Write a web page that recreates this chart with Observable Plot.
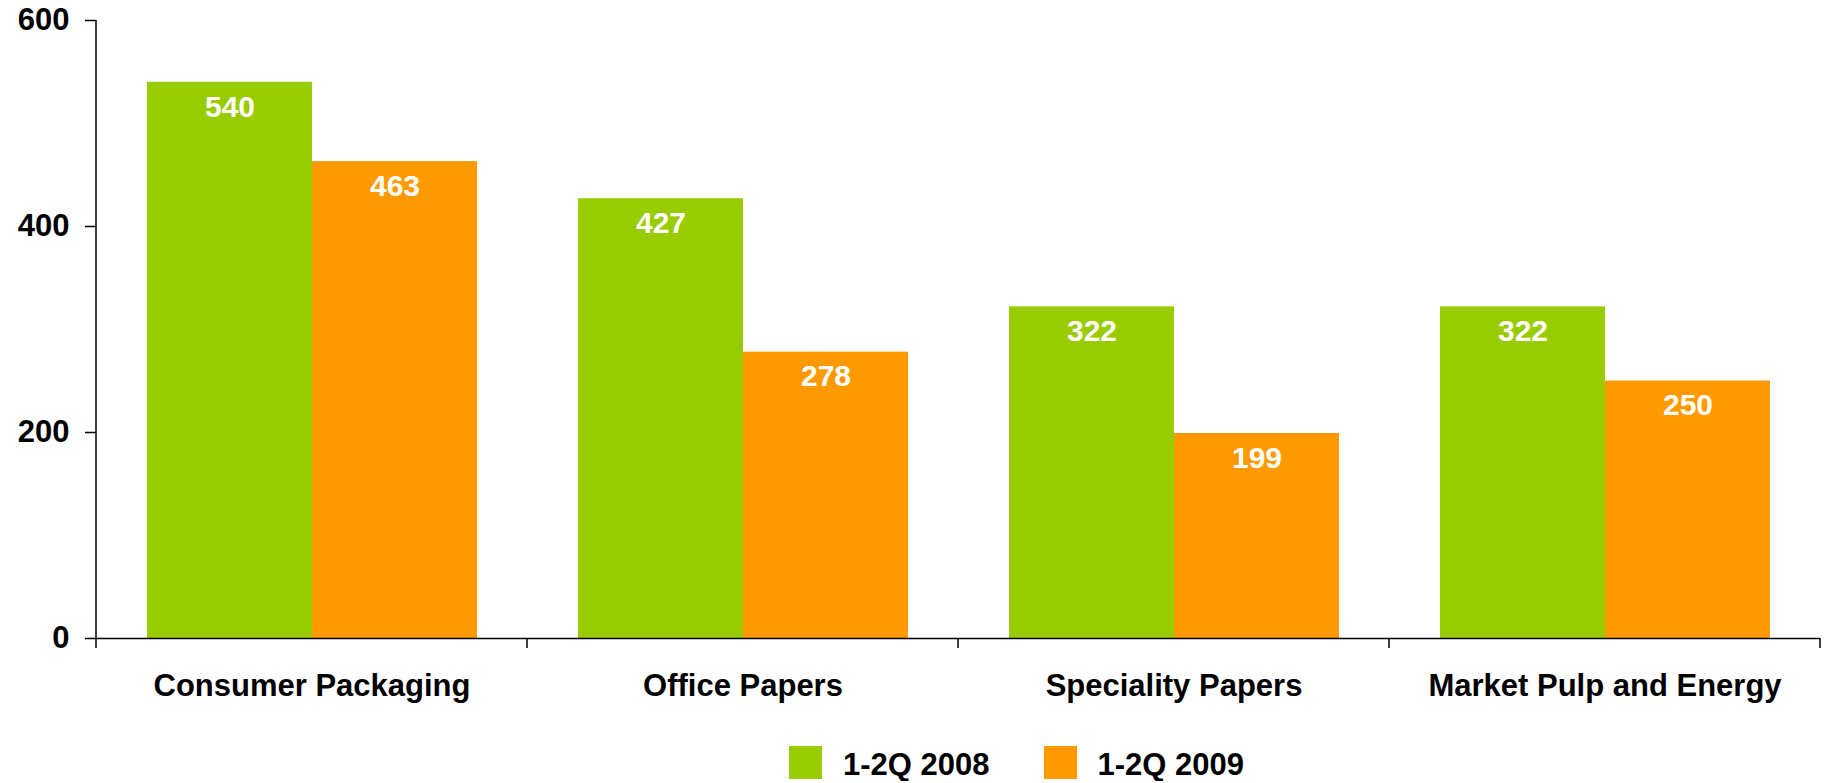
<!DOCTYPE html>
<html>
<head>
<meta charset="utf-8">
<script src="https://cdn.jsdelivr.net/npm/d3@7"></script>
<script src="https://cdn.jsdelivr.net/npm/@observablehq/plot@0.6"></script>
<style>
  html, body { margin: 0; padding: 0; background: #fff; overflow: hidden; }
  body { font-family: "Liberation Sans", Arial, sans-serif; font-weight: bold; }
  #legend { display: flex; align-items: flex-start; margin-top: 26px; padding-left: 789px; font-size: 31px; }
  .item { display: flex; align-items: flex-start; margin-right: 54px; }
  .sw { width: 33px; height: 33px; margin-right: 21px; }
  .lab { line-height: 33px; padding-top: 2px; color: #000; }
</style>
</head>
<body>
<div id="chart"></div>
<div id="legend"></div>
<script>
const categories = ["Consumer Packaging", "Office Papers", "Speciality Papers", "Market Pulp and Energy"];
const series = ["1-2Q 2008", "1-2Q 2009"];
const values2008 = [540, 427, 322, 322];
const values2009 = [463, 278, 199, 250];
const colors = ["#99CC00", "#FF9900"];
const yTicks = [0, 200, 400, 600];

const seriesValues = [values2008, values2009];
const table = categories.flatMap((c, i) =>
  series.map((s, j) => ({category: c, series: s, value: seriesValues[j][i]}))
);

const chart = Plot.plot({
  width: 1824,
  height: 720,
  marginLeft: 95,
  marginRight: 3,
  marginTop: 20,
  marginBottom: 82,
  style: {fontFamily: "'Liberation Sans', Arial, sans-serif", fontWeight: "bold", fontSize: "31px", color: "#000", background: "#fff"},
  fx: {domain: categories, padding: 0, axis: null, label: null},
  x: {domain: series, paddingInner: 0, paddingOuter: 0.3, axis: null},
  y: {domain: [0, 600], axis: null},
  color: {domain: series, range: colors},
  marks: [
    Plot.barY(table, {fx: "category", x: "series", y: "value", fill: "series"}),
    Plot.text(table, {fx: "category", x: "series", y: "value", text: d => String(d.value),
      lineAnchor: "top", dy: 13, fill: "white", fontSize: 30, fontWeight: "bold"}),
    Plot.ruleY([0], {stroke: "#000", strokeWidth: 1.5}),
    Plot.axisY({ticks: yTicks, tickSize: 11, tickPadding: 16, label: null, tickFormat: d => String(d), strokeWidth: 1.5}),
    Plot.axisFx({anchor: "bottom", tickSize: 0, tickPadding: 35, label: null})
  ]
});

document.getElementById("chart").appendChild(chart);

// axis line and category boundary ticks, positioned via the plot's own scales
const fxs = chart.scale("fx");
const ys = chart.scale("y");
const bounds = categories.map(c => fxs.apply(c));
bounds.push(fxs.apply(categories[categories.length - 1]) + fxs.bandwidth);
const y0 = ys.apply(0);
const svg = d3.select(chart);
const g = svg.append("g").attr("stroke", "#000").attr("stroke-width", 1.5);
g.append("line").attr("x1", bounds[0]).attr("x2", bounds[0]).attr("y1", ys.apply(yTicks[yTicks.length - 1])).attr("y2", y0 + 10);
bounds.slice(1).forEach(b => {
  g.append("line").attr("x1", b).attr("x2", b).attr("y1", y0).attr("y2", y0 + 10);
});

// legend
const legend = d3.select("#legend");
series.forEach((s, i) => {
  const it = legend.append("div").attr("class", "item");
  it.append("div").attr("class", "sw").style("background", colors[i]);
  it.append("div").attr("class", "lab").text(s);
});
</script>
</body>
</html>
